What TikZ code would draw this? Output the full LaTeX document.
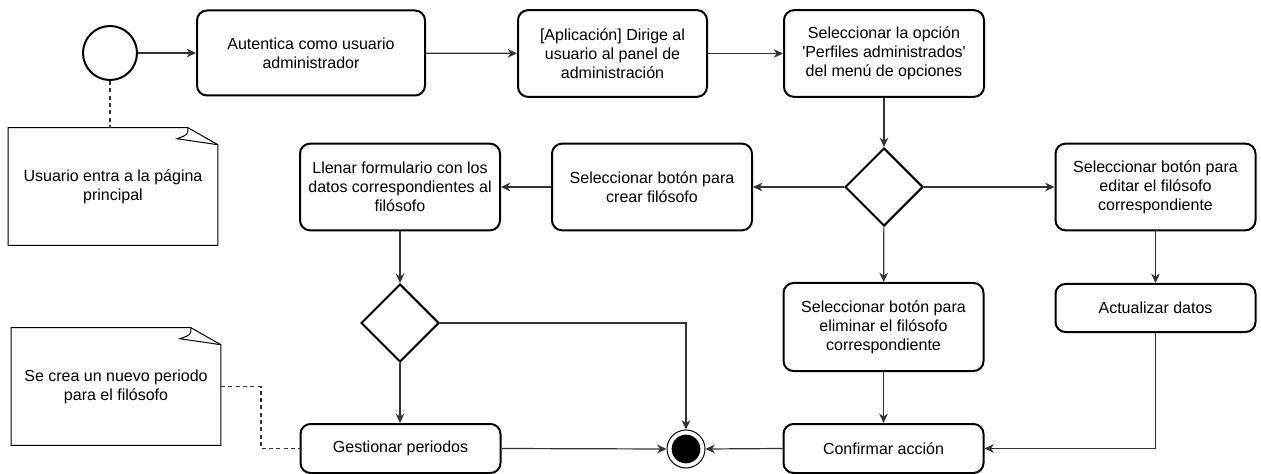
\documentclass[tikz,border=0pt]{standalone}
\usepackage{fontspec}
\setmainfont{Liberation Sans}
\usetikzlibrary{arrows.meta,positioning,shapes.geometric,calc}
\definecolor{flowline}{RGB}{51,51,51}

\begin{document}
\begin{tikzpicture}[x=0.75pt,y=-0.75pt,
    act/.style={draw, line width=1.5pt, rounded corners=7.5pt, align=center,
        minimum width=150pt, minimum height=65pt, inner sep=0pt,
        font=\fontsize{12}{14.4}\selectfont},
    decision/.style={draw, diamond, line width=1.5pt, minimum width=58.5pt,
        minimum height=58.5pt, inner sep=0pt},
    note/.style={align=center, minimum width=157pt, minimum height=87.75pt,
        inner sep=0pt, font=\fontsize{12}{14.4}\selectfont},
    flow/.style={draw=flowline, line width=0.9pt,
        -{Stealth[length=7pt,width=6.5pt,inset=2.2pt]}},
    link/.style={draw=flowline, line width=0.9pt, dash pattern=on 3pt off 2.5pt}]
    \useasboundingbox (0,0) rectangle (1261,474);

    % start / end
    \node[draw, circle, line width=1.5pt, minimum size=40.5pt] (start) at (110,53) {};
    \node[draw, circle, line width=0.75pt, minimum size=28.5pt] (endo) at (686,449) {};
    \node[circle, fill=black, minimum size=21.5pt, inner sep=0pt] (endi) at (endo) {};

    % activities
    \node[act, minimum width=171pt, minimum height=63.75pt] (aut) at (311,53) {Autentica como usuario\\administrador};
    \node[act, minimum width=141.75pt] (dir) at (612.5,53.5) {[Aplicación] Dirige al\\usuario al panel de\\administración};
    \node[act] (sel) at (884,53.5) {Seleccionar la opción\\\textquotesingle Perfiles administrados\textquotesingle\\del menú de opciones};
    \node[decision] (d1) at (884,187) {};
    \node[act] (crear) at (652,187) {Seleccionar botón para\\crear filósofo};
    \node[act] (llenar) at (400,187) {Llenar formulario con los\\datos correspondientes al\\filósofo};
    \node[act] (editar) at (1155.5,187) {Seleccionar botón para\\editar el filósofo\\correspondiente};
    \node[act, minimum height=36pt] (actual) at (1155.5,308) {Actualizar datos};
    \node[act, minimum height=66pt] (elim) at (883.5,327) {Seleccionar botón para\\eliminar el filósofo\\correspondiente};
    \node[act, minimum height=36.75pt] (conf) at (883.5,448.5) {Confirmar acción};
    \node[decision] (d2) at (400,323) {};
    \node[act, minimum height=36.75pt] (gest) at (400.5,448.5) {Gestionar periodos};

    % notes
    \node[note] (n1) at (113,186.5) {Usuario entra a la página\\principal};
    \node[note] (n2) at (116,386.5) {Se crea un nuevo periodo\\para el filósofo};
    \foreach \n in {n1,n2} {
        \draw[line width=0.75pt] (\n.south west) -- (\n.north west)
            -- ($(\n.north east)+(-30,0)$) -- ($(\n.north east)+(0,17)$)
            -- (\n.south east) -- cycle;
        \draw[line width=0.75pt] ($(\n.north east)+(-30,0)$)
            .. controls ($(\n.north east)+(-30,7)$) .. ($(\n.north east)+(-41,11)$)
            -- ($(\n.north east)+(0,17)$);
    }

    % flow
    \draw[flow] (start) -- (aut);
    \draw[flow] (aut) -- (dir);
    \draw[flow] (dir) -- (sel);
    \draw[flow] (sel) -- (d1);
    \draw[flow] (d1) -- (crear);
    \draw[flow] (d1) -- (editar);
    \draw[flow] (d1) -- (elim);
    \draw[flow] (crear) -- (llenar);
    \draw[flow] (llenar) -- (d2);
    \draw[flow] (d2.south) -- (d2.south |- gest.north);
    \draw[flow] (d2.east) -| (endo.north);
    \draw[flow] (gest.east) -- (endo.west);
    \draw[flow] (editar) -- (actual);
    \draw[flow] (elim) -- (conf);
    \draw[flow] (conf.west) -- (endo.east);
    \draw[flow] (actual.south) |- (conf.east);

    % note links
    \draw[link] (start.south) -- (start.south |- n1.north);
    \draw[link] (n2.east) -- ++(40,0) |- (gest.west);
\end{tikzpicture}
\end{document}
